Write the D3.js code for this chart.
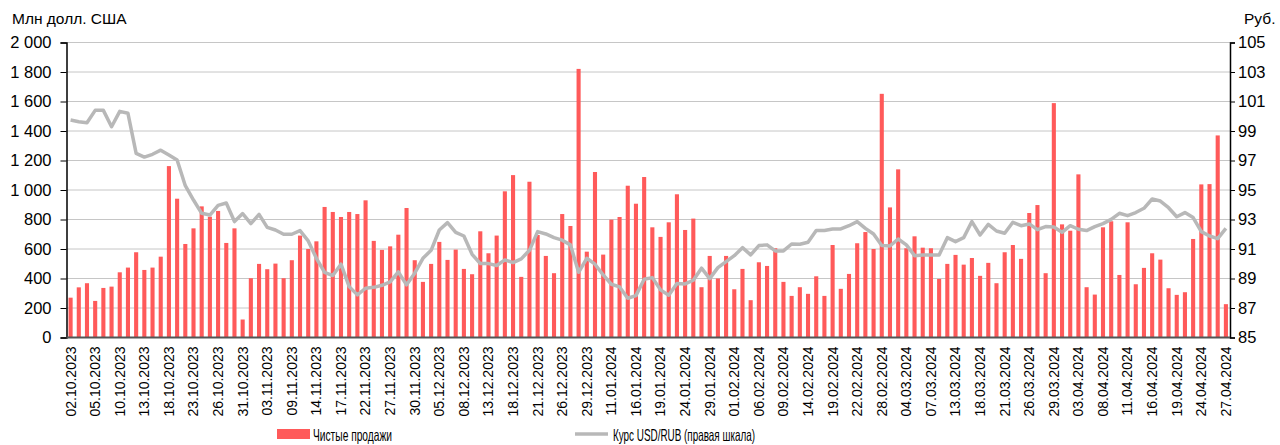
<html>

<head>
  <script src="https://d3js.org/d3.v7.min.js"></script>
  <style>
    body { margin: 0; background: #fff; }
    text { font-family: "Liberation Sans", Arial, sans-serif; fill: #000; }
  </style>
</head>

<body>
  <svg id="chart" width="1280" height="445"></svg>

  <script>
    // trading days, Oct 2023 - Apr 2024
    const oct = ["02","03","04","05","06","09","10","11","12","13","16","17","18","19","20","23","24","25","26","27","30","31"];
    const nov = ["01","02","03","07","08","09","10","13","14","15","16","17","20","21","22","23","24","27","28","29","30"];
    const dec = ["01","04","05","06","07","08","11","12","13","14","15","18","19","20","21","22","25","26","27","28","29"];
    const jan = ["09","10","11","12","15","16","17","18","19","22","23","24","25","26","29","30","31"];
    const feb = ["01","02","05","06","07","08","09","12","13","14","15","16","19","20","21","22","26","27","28","29"];
    const mar = ["01","04","05","06","07","11","12","13","14","15","18","19","20","21","22","25","26","27","28","29"];
    const apr = ["01","02","03","04","05","08","09","10","11","12","15","16","17","18","19","22","23","24","25","26","27"];

    const dates = [].concat(
      oct.map(d => d + ".10.2023"), nov.map(d => d + ".11.2023"), dec.map(d => d + ".12.2023"),
      jan.map(d => d + ".01.2024"), feb.map(d => d + ".02.2024"), mar.map(d => d + ".03.2024"),
      apr.map(d => d + ".04.2024"));

    // net FX sales, mln USD
    const sales = [270,340,368,248,336,345,442,474,578,458,474,548,1162,941,634,740,889,819,858,641,
      740,122,402,499,463,501,402,524,691,600,652,885,851,817,851,837,930,655,594,618,
      697,878,524,377,499,648,526,596,465,429,720,571,691,991,1101,411,1056,695,553,436,
      837,756,1821,582,1122,562,799,817,1029,907,1088,747,682,781,971,729,806,341,553,400,
      553,327,465,253,510,485,605,377,282,341,296,415,282,627,330,431,639,715,600,1652,
      882,1140,605,686,609,605,397,499,560,494,539,418,506,368,578,627,533,844,898,436,
      1589,767,724,1106,341,291,747,788,424,781,361,472,571,528,334,289,307,668,1038,1040,
      1370,226];

    // USD/RUB, right axis
    const rate = [99.74,99.63,99.56,100.4,100.4,99.29,100.33,100.2,97.48,97.23,
      97.42,97.7,97.37,97.03,95.29,94.32,93.42,93.3,93.96,94.12,
      92.86,93.4,92.72,93.35,92.47,92.29,92.0,92.0,92.25,91.55,
      90.37,89.42,89.2,89.97,88.45,87.89,88.34,88.4,88.54,88.77,
      89.45,88.57,89.36,90.37,90.91,92.29,92.79,92.13,91.88,90.64,
      90.01,90.01,89.88,90.26,90.08,90.33,90.91,92.18,92.02,91.77,
      91.6,91.28,89.42,90.37,89.97,89.24,88.61,88.43,87.66,87.84,
      88.95,89.06,88.23,87.87,88.66,88.63,88.88,89.7,88.99,89.74,
      90.15,90.55,91.09,90.6,91.23,91.28,90.87,90.87,91.34,91.32,
      91.46,92.25,92.25,92.36,92.36,92.58,92.86,92.4,92.02,91.23,
      91.2,91.68,91.28,90.55,90.6,90.6,90.6,91.77,91.5,91.77,
      92.86,91.95,92.67,92.22,92.07,92.81,92.58,92.7,92.31,92.52,
      92.49,92.13,92.58,92.34,92.25,92.52,92.72,93.01,93.42,93.26,
      93.47,93.76,94.39,94.25,93.8,93.19,93.47,93.13,92.18,91.88,
      91.7,92.4];

    const leftTicks = [0,200,400,600,800,1000,1200,1400,1600,1800,2000];
    const rightTicks = [85,87,89,91,93,95,97,99,101,103,105];

    const svg = d3.select("#chart");
    const margin = {left: 66.5, right: 50, top: 42.5, bottom: 107.5};
    const width = 1280, height = 445;
    const x0 = margin.left, x1 = width - margin.right, y0 = height - margin.bottom, y1 = margin.top;

    const x = d3.scaleBand().domain(dates).range([x0, x1]).paddingInner(0.5).paddingOuter(0.25);
    const yL = d3.scaleLinear().domain([0, 2000]).range([y0, y1]);
    const yR = d3.scaleLinear().domain([85, 105]).range([y0, y1]);

    const ru = d3.formatLocale({decimal: ",", thousands: "\u00a0", grouping: [3], currency: ["", ""]});
    const fmt = ru.format(",d");

    // grid
    svg.append("g").selectAll("line").data(leftTicks.slice(1)).join("line")
      .attr("x1", x0).attr("x2", x1)
      .attr("y1", d => yL(d)).attr("y2", d => yL(d))
      .attr("stroke", "#c6c6c6").attr("stroke-width", 1);

    // bars
    svg.append("g").selectAll("rect").data(sales).join("rect")
      .attr("x", (d, i) => x(dates[i]))
      .attr("width", x.bandwidth())
      .attr("y", d => yL(d))
      .attr("height", d => y0 - yL(d))
      .attr("fill", "#ff5a5a");

    // line
    const line = d3.line()
      .x((d, i) => x(dates[i]) + x.bandwidth() / 2)
      .y(d => yR(d));
    svg.append("path").datum(rate)
      .attr("d", line)
      .attr("fill", "none")
      .attr("stroke", "#b8b8b8")
      .attr("stroke-width", 3.5)
      .attr("stroke-linejoin", "round");

    // left axis
    const axL = svg.append("g").attr("transform", `translate(${x0},0)`)
      .call(d3.axisLeft(yL).tickValues(leftTicks).tickSize(6).tickPadding(9).tickFormat(fmt));
    axL.select(".domain").attr("stroke", "#000").attr("stroke-width", 1.5);
    axL.selectAll("text").style("font-size", "16.5px").attr("fill", "#000");

    // right axis
    const axR = svg.append("g").attr("transform", `translate(${x1},0)`)
      .call(d3.axisRight(yR).tickValues(rightTicks).tickSize(5).tickPadding(3));
    axR.select(".domain").attr("stroke", "#000").attr("stroke-width", 1.5);
    axR.selectAll("text").style("font-size", "16.5px").attr("fill", "#000");

    // bottom axis
    svg.append("line").attr("x1", x0).attr("x2", x1).attr("y1", y0).attr("y2", y0)
      .attr("stroke", "#555").attr("stroke-width", 2);

    svg.append("g").selectAll("text")
      .data(dates.filter((d, i) => i % 3 === 0))
      .join("text")
      .attr("transform", d => `translate(${x(d) + x.bandwidth() / 2},${y0 + 9}) rotate(-90)`)
      .attr("text-anchor", "end")
      .attr("dy", "0.35em")
      .style("font-size", "14px")
      .text(d => d);

    // axis titles
    svg.append("text").attr("x", 12).attr("y", 24).style("font-size", "15.5px").text("Млн долл. США");
    svg.append("text").attr("x", 1244).attr("y", 24).style("font-size", "15.5px").text("Руб.");

    // legend
    const lg = svg.append("g");
    lg.append("rect").attr("x", 277).attr("y", 429).attr("width", 33).attr("height", 10).attr("fill", "#ff5a5a");
    lg.append("text").attr("x", 313).attr("y", 440.5).style("font-size", "16.5px")
      .attr("textLength", 79).attr("lengthAdjust", "spacingAndGlyphs").text("Чистые продажи");
    lg.append("line").attr("x1", 575).attr("x2", 608).attr("y1", 434).attr("y2", 434)
      .attr("stroke", "#b8b8b8").attr("stroke-width", 3.5);
    lg.append("text").attr("x", 613).attr("y", 440.5).style("font-size", "16.5px")
      .attr("textLength", 142).attr("lengthAdjust", "spacingAndGlyphs").text("Курс USD/RUB (правая шкала)");
  </script>
</body>

</html>
